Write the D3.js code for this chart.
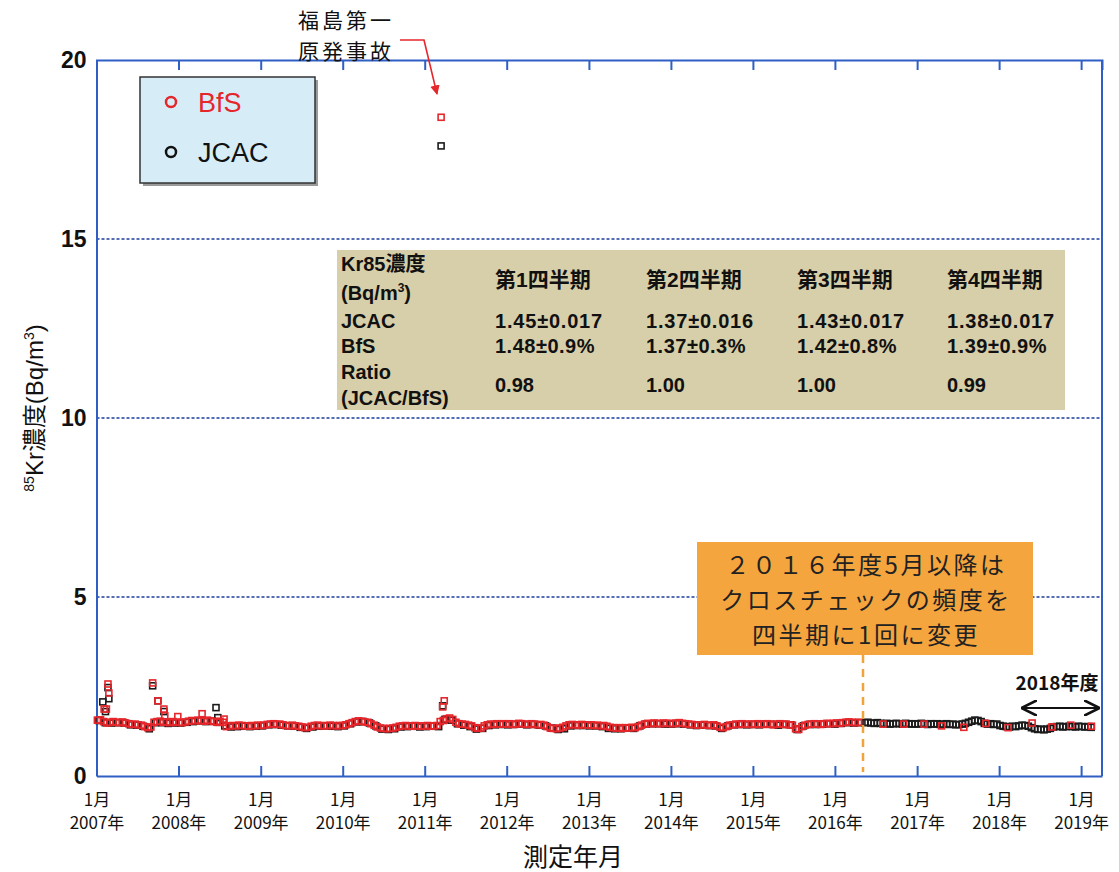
<!DOCTYPE html>
<html>
<head>
<meta charset="utf-8">
<script src="https://cdn.jsdelivr.net/npm/d3@7"></script>
<style>
  html, body { margin: 0; padding: 0; background: #ffffff; }
  svg { display: block; }
  text { font-family: "Liberation Sans", Arial, "Noto Sans CJK JP", sans-serif; }
  .jp { font-family: "Noto Sans CJK JP", "Liberation Sans", sans-serif; }
</style>
</head>
<body>
<svg id="chart" width="1119" height="872"></svg>
<script>
// ---- Kr-85 weekly cross-check data (Bq/m3) ----
// BfS, two-week sampling from 2007-01-05 up to April 2016
const bfsBiweekly = [
  1.56,1.57,1.52,1.48,1.50,1.52,1.50,1.49,1.51,1.48,1.46,1.44,1.45,1.43,1.42,1.38,1.35,1.37,1.50,1.52,1.53,1.50,1.51,1.49,1.52,1.50,
  1.50,1.49,1.51,1.53,1.55,1.54,1.56,1.55,1.53,1.56,1.54,1.52,1.50,1.53,1.50,1.38,1.40,1.41,1.40,1.42,1.41,1.40,1.39,1.41,1.40,1.42,
  1.41,1.42,1.44,1.45,1.46,1.44,1.45,1.43,1.41,1.40,1.42,1.40,1.39,1.37,1.35,1.36,1.39,1.41,1.42,1.40,1.41,1.40,1.42,1.41,1.40,1.41,
  1.41,1.43,1.46,1.49,1.52,1.54,1.53,1.51,1.50,1.46,1.42,1.37,1.34,1.33,1.32,1.33,1.34,1.36,1.39,1.40,1.41,1.40,1.39,1.41,1.40,1.39,
  1.40,1.41,1.39,1.40,1.41,1.52,1.55,1.60,1.62,1.58,1.50,1.46,1.45,1.44,1.42,1.40,1.35,1.33,1.34,1.40,1.43,1.45,1.44,1.46,1.45,1.46,
  1.45,1.46,1.44,1.45,1.47,1.46,1.45,1.44,1.46,1.45,1.43,1.44,1.42,1.38,1.34,1.33,1.32,1.34,1.36,1.40,1.43,1.44,1.43,1.42,1.44,1.43,
  1.42,1.43,1.41,1.42,1.40,1.41,1.39,1.36,1.35,1.34,1.35,1.33,1.35,1.34,1.36,1.35,1.38,1.42,1.45,1.47,1.46,1.48,1.47,1.46,1.48,1.47,
  1.47,1.46,1.48,1.49,1.47,1.46,1.45,1.44,1.43,1.42,1.43,1.44,1.42,1.41,1.43,1.40,1.36,1.35,1.38,1.42,1.43,1.45,1.44,1.46,1.45,1.44,
  1.45,1.44,1.46,1.45,1.44,1.46,1.45,1.43,1.45,1.46,1.44,1.45,1.43,1.42,1.32,1.30,1.38,1.42,1.44,1.45,1.46,1.45,1.44,1.46,1.47,1.46,
  1.47,1.48,1.47,1.49,1.50,1.51,1.50,1.49,1.50
];
// JCAC, four-week sampling from 2007-01-12 up to April 2016
const jcacFourWeekly = [
  1.55,1.49,1.48,1.49,1.48,1.43,1.42,1.39,1.32,1.49,1.49,1.47,1.48,
  1.48,1.50,1.52,1.54,1.52,1.53,1.50,1.40,1.37,1.38,1.39,1.38,1.39,
  1.40,1.43,1.44,1.42,1.40,1.39,1.36,1.33,1.37,1.39,1.40,1.39,1.38,
  1.40,1.46,1.51,1.52,1.48,1.40,1.31,1.30,1.32,1.37,1.38,1.39,1.37,
  1.38,1.39,1.38,1.58,1.56,1.46,1.42,1.38,1.31,1.33,1.41,1.43,1.44,
  1.43,1.44,1.45,1.43,1.44,1.42,1.40,1.34,1.30,1.32,1.40,1.41,1.41,
  1.40,1.40,1.38,1.33,1.32,1.32,1.34,1.33,1.40,1.45,1.46,1.46,1.45,
  1.45,1.46,1.45,1.43,1.41,1.42,1.41,1.40,1.33,1.40,1.43,1.44,1.43,
  1.44,1.43,1.45,1.44,1.42,1.44,1.43,1.30,1.40,1.44,1.44,1.45,1.46,
  1.45,1.47,1.49,1.48,1.49
];
// JCAC, two-week sampling from 2016-05-13 onward
const jcacBiweeklyLate = [
  1.49,1.50,1.48,1.47,1.49,1.47,
  1.46,1.47,1.45,1.46,1.47,1.46,1.45,1.47,1.46,1.45,
  1.46,1.45,1.47,1.46,1.44,1.46,1.45,1.46,1.44,1.45,1.46,1.44,1.45,1.43,1.44,
  1.45,1.47,1.50,1.53,1.56,1.55,1.52,
  1.47,1.45,1.46,1.44,1.45,
  1.41,1.39,1.38,1.37,1.39,1.38,
  1.40,1.42,1.41,1.39,
  1.35,1.32,1.30,1.31,1.29,1.31,1.33,
  1.37,1.38,1.39,1.37,1.38,1.39,1.38,1.37,1.39,1.38,1.37,1.38,1.36
];
// BfS quarterly cross-checks after May 2016
const bfsQuarterDates = ["2016-08-02","2016-11-02","2017-02-01","2017-04-20","2017-07-28","2017-11-03",
                         "2018-02-10","2018-05-28","2018-08-24","2018-11-16","2019-02-16"];
const bfsQuarterValues = [1.45,1.45,1.45,1.40,1.36,1.47,1.35,1.48,1.37,1.42,1.39];
// Individual high readings
const bfsSpikeDates = ["2007-02-04","2007-02-14","2007-02-21","2007-02-25","2007-09-08","2007-10-01","2007-10-28",
                       "2007-11-01","2007-12-29","2008-04-15","2008-07-22","2011-03-15","2011-03-22","2011-03-29"];
const bfsSpikeValues = [1.87,1.87,2.57,2.32,2.60,2.10,1.87,1.68,1.66,1.74,1.59,18.4,1.93,2.10];
const jcacSpikeDates = ["2007-01-29","2007-02-10","2007-02-21","2007-02-25","2007-09-08","2007-10-01","2007-10-28",
                        "2008-06-16","2008-06-24","2011-03-15","2011-03-22"];
const jcacSpikeValues = [2.07,1.80,2.47,2.16,2.52,2.10,1.80,1.91,1.63,17.6,1.96];

// FY2018 quarterly comparison table
const tableHeader = ["第1四半期","第2四半期","第3四半期","第4四半期"];
const tableJCAC = ["1.45±0.017","1.37±0.016","1.43±0.017","1.38±0.017"];
const tableBfS = ["1.48±0.9%","1.37±0.3%","1.42±0.8%","1.39±0.9%"];
const tableRatio = ["0.98","1.00","1.00","0.99"];

// Axis ticks
const yTicks = [0, 5, 10, 15, 20];
const yearTicks = d3.range(2007, 2020);
const noteLines = ["２０１６年度5月以降は","クロスチェックの頻度を","四半期に1回に変更"];

// ---- build point lists ----
const DAY = 864e5;
const parse = s => new Date(s + "T00:00:00Z");
const series = (start, step, vals) => vals.map((v, i) => ({ t: new Date(start + i * step * DAY), v }));
const bfsPoints = series(Date.UTC(2007, 0, 5), 14, bfsBiweekly)
  .concat(bfsQuarterDates.map((d, i) => ({ t: parse(d), v: bfsQuarterValues[i] })))
  .concat(bfsSpikeDates.map((d, i) => ({ t: parse(d), v: bfsSpikeValues[i] })));
const jcacPoints = series(Date.UTC(2007, 0, 12), 28, jcacFourWeekly)
  .concat(series(Date.UTC(2016, 4, 13), 14, jcacBiweeklyLate))
  .concat(jcacSpikeDates.map((d, i) => ({ t: parse(d), v: jcacSpikeValues[i] })));

// ---- layout ----
const svg = d3.select("#chart");
const L = 96.5, R = 1102, T = 60, B = 776;
const x = d3.scaleUtc().domain([new Date(Date.UTC(2007, 0, 1)), new Date(Date.UTC(2019, 3, 4))]).range([L, R]);
const y = d3.scaleLinear().domain([0, 20]).range([B, T]);
const AXIS = "#2f5fc4";
const RED = "#e5262b";

const defs = svg.append("defs");
defs.append("marker").attr("id", "arrRed").attr("viewBox", "0 0 10 10").attr("refX", 9).attr("refY", 5)
  .attr("markerWidth", 6).attr("markerHeight", 6).attr("orient", "auto-start-reverse")
  .append("path").attr("d", "M0,0 L10,5 L0,10 z").attr("fill", RED);
defs.append("marker").attr("id", "arrBlk").attr("viewBox", "0 0 10 10").attr("refX", 9).attr("refY", 5)
  .attr("markerWidth", 8).attr("markerHeight", 8).attr("orient", "auto-start-reverse")
  .append("path").attr("d", "M0,0 L10,5 L0,10").attr("fill", "none").attr("stroke", "#111").attr("stroke-width", 1.6);

// gridlines
svg.append("g").selectAll("line").data(yTicks.filter(v => v > 0 && v < 20)).join("line")
  .attr("x1", L).attr("x2", R).attr("y1", d => y(d)).attr("y2", d => y(d))
  .attr("stroke", "#1d3d9c").attr("stroke-width", 1.3).attr("stroke-dasharray", "3,2");

// frame: top axis, right border
const topAxis = svg.append("g").attr("transform", `translate(0,${T})`)
  .call(d3.axisTop(x).tickValues(yearTicks.map(yr => new Date(Date.UTC(yr, 0, 1)))).tickSize(-10).tickFormat(""));
svg.append("line").attr("x1", R).attr("x2", R).attr("y1", T).attr("y2", B).attr("stroke", AXIS).attr("stroke-width", 2);

// bottom axis with two-line labels
const bottomAxis = svg.append("g").attr("transform", `translate(0,${B})`)
  .call(d3.axisBottom(x).tickValues(yearTicks.map(yr => new Date(Date.UTC(yr, 0, 1)))).tickSizeInner(-10).tickSizeOuter(0).tickFormat(""));
bottomAxis.selectAll(".tick").append("text").attr("class", "jp").attr("fill", "#111")
  .attr("font-size", 17).attr("text-anchor", "middle")
  .each(function (d) {
    const t = d3.select(this);
    t.append("tspan").attr("x", 0).attr("y", 30).text("1月");
    t.append("tspan").attr("x", 0).attr("y", 53).text(d.getUTCFullYear() + "年");
  });

// left axis
const leftAxis = svg.append("g").attr("transform", `translate(${L},0)`)
  .call(d3.axisLeft(y).tickValues(yTicks).tickSize(0).tickPadding(10));
leftAxis.selectAll("text").attr("font-size", 23).attr("font-weight", "bold").attr("fill", "#111")
  .style("font-family", "'Liberation Sans', Arial, sans-serif");

[topAxis, bottomAxis, leftAxis].forEach(g => {
  g.select(".domain").attr("stroke", AXIS).attr("stroke-width", 2);
  g.selectAll(".tick line").attr("stroke", AXIS).attr("stroke-width", 2);
});

// axis titles
svg.append("text").attr("class", "jp").attr("x", 573).attr("y", 866).attr("text-anchor", "middle")
  .attr("font-size", 25).attr("fill", "#111").text("測定年月");
const yt = svg.append("text").attr("transform", "translate(43,408) rotate(-90)").attr("text-anchor", "middle")
  .attr("font-size", 24).attr("fill", "#111");
yt.append("tspan").attr("font-size", 14).attr("dy", -9).text("85");
yt.append("tspan").attr("dy", 9).text("Kr");
yt.append("tspan").attr("class", "jp").text("濃度");
yt.append("tspan").text("(Bq/m");
yt.append("tspan").attr("font-size", 14).attr("dy", -9).text("3");
yt.append("tspan").attr("dy", 9).text(")");

// data points: hollow squares
const S = 6;
function drawPoints(points, color) {
  svg.append("g").selectAll("rect").data(points).join("rect")
    .attr("x", d => x(d.t) - S / 2).attr("y", d => y(d.v) - S / 2)
    .attr("width", S).attr("height", S)
    .attr("fill", "none").attr("stroke", color).attr("stroke-width", 1.6);
}
drawPoints(jcacPoints, "#1b1b1b");
drawPoints(bfsPoints, RED);

// legend
svg.append("rect").attr("x", 143).attr("y", 80).attr("width", 175).attr("height", 106).attr("fill", "#9a9a9a");
svg.append("rect").attr("x", 140).attr("y", 77).attr("width", 175).attr("height", 106)
  .attr("fill", "#d6edf8").attr("stroke", "#333").attr("stroke-width", 1.5);
const legendItems = [{ name: "BfS", color: RED, cy: 102 }, { name: "JCAC", color: "#111", cy: 152 }];
legendItems.forEach(it => {
  svg.append("circle").attr("cx", 171).attr("cy", it.cy).attr("r", 5).attr("fill", "none")
    .attr("stroke", it.color).attr("stroke-width", 2.5);
  svg.append("text").attr("x", 198).attr("y", it.cy).attr("dy", "0.36em").attr("font-size", 27)
    .attr("fill", it.color).text(it.name);
});

// accident annotation
svg.append("text").attr("class", "jp").attr("x", 298).attr("y", 28).attr("font-size", 21)
  .attr("letter-spacing", 3).attr("fill", "#111").text("福島第一");
svg.append("text").attr("class", "jp").attr("x", 298).attr("y", 59).attr("font-size", 21)
  .attr("letter-spacing", 3).attr("fill", "#111").text("原発事故");
svg.append("polyline").attr("points", "400,40 424,40 437,94").attr("fill", "none")
  .attr("stroke", RED).attr("stroke-width", 1.6).attr("marker-end", "url(#arrRed)");

// comparison table
svg.append("rect").attr("x", 337).attr("y", 250).attr("width", 728).attr("height", 160).attr("fill", "#d7cfa9");
const tb = svg.append("g").attr("font-weight", "bold").attr("font-size", 20).attr("fill", "#111");
const rowText = (tx, ty, s) => tb.append("text").attr("x", tx).attr("y", ty).attr("dy", "0.36em").text(s);
rowText(341, 264, "Kr85濃度");
const unit = tb.append("text").attr("x", 341).attr("y", 293).attr("dy", "0.36em");
unit.append("tspan").text("(Bq/m");
unit.append("tspan").attr("font-size", 12).attr("dy", -8).text("3");
unit.append("tspan").attr("dy", 8).text(")");
rowText(341, 321, "JCAC");
rowText(341, 346, "BfS");
rowText(341, 372, "Ratio");
rowText(341, 398, "(JCAC/BfS)");
const colX = [495, 646, 797, 947];
colX.forEach((cx, i) => {
  rowText(cx, 279, tableHeader[i]).attr("font-size", 21);
  rowText(cx, 321, tableJCAC[i]).attr("letter-spacing", 0.8);
  rowText(cx, 346, tableBfS[i]).attr("letter-spacing", 0.5);
  rowText(cx, 385, tableRatio[i]);
});

// change of schedule note
svg.append("line").attr("x1", 863).attr("x2", 863).attr("y1", 655).attr("y2", 772)
  .attr("stroke", "#f2a23a").attr("stroke-width", 2.5).attr("stroke-dasharray", "8,6");
svg.append("rect").attr("x", 697).attr("y", 542).attr("width", 336).attr("height", 113).attr("fill", "#f5a53e");
noteLines.forEach((s, i) => {
  svg.append("text").attr("class", "jp").attr("x", 866).attr("y", 565 + i * 35).attr("dy", "0.36em")
    .attr("text-anchor", "middle").attr("font-size", 24).attr("letter-spacing", 2.5)
    .attr("fill", "#222").text(s);
});

// FY2018 span
svg.append("text").attr("class", "jp").attr("x", 1057).attr("y", 683).attr("dy", "0.36em").attr("text-anchor", "middle")
  .attr("font-size", 19).attr("font-weight", "bold").attr("fill", "#111").text("2018年度");
svg.append("line").attr("x1", 1023).attr("x2", 1098).attr("y1", 708).attr("y2", 708)
  .attr("stroke", "#111").attr("stroke-width", 2)
  .attr("marker-start", "url(#arrBlk)").attr("marker-end", "url(#arrBlk)");
</script>
</body>
</html>
